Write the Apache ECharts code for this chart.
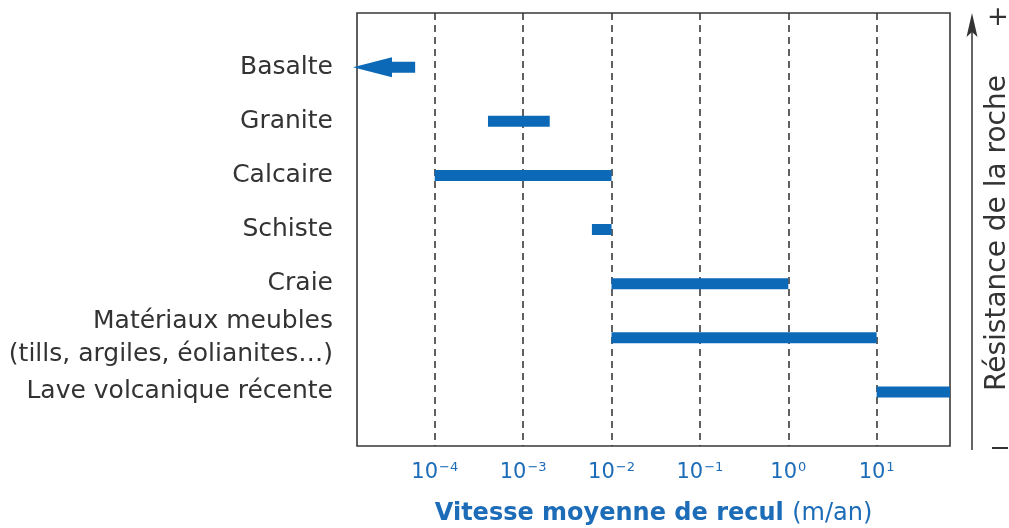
<!DOCTYPE html>
<html lang="fr">
<head>
<meta charset="utf-8">
<title>Vitesse moyenne de recul des côtes rocheuses</title>
<script src="https://cdn.jsdelivr.net/npm/echarts@6/dist/echarts.min.js"></script>
<style>
  html, body { margin: 0; padding: 0; background: #ffffff; }
  #chart { width: 1009px; height: 528px; }
</style>
</head>
<body>
<div id="chart"></div>
<script>
// Rock types, from most to least resistant
const rocks = [
  'Basalte',
  'Granite',
  'Calcaire',
  'Schiste',
  'Craie',
  'Matériaux meubles\n(tills, argiles, éolianites…)',
  'Lave volcanique récente'
];
// Range of mean retreat rate (m/an); null = open-ended (beyond the axis)
const rateLow  = [null, 4e-4, 1e-4, 6e-3, 1e-2, 1e-2, 10];
const rateHigh = [6e-5, 2e-3, 1e-2, 1e-2, 1, 10, null];
// Decade exponents labelled on the x axis
const tickExponents = [-4, -3, -2, -1, 0, 1];

const BLUE = '#0b69b7';
const LABEL_BLUE = '#1d6cb8';
const INK = '#333333';
const FONT = 'DejaVu Sans';

const xMin = Math.pow(10, -4.88);
const xMax = Math.pow(10, 1.83);

function decadeLabel(v) {
  const e = Math.log10(v);
  const r = Math.round(e);
  if (Math.abs(e - r) > 1e-6 || tickExponents.indexOf(r) < 0) return '';
  const exp = String(r).replace('-', '−');
  return '{b|10}{s|' + exp + '}';
}

const chart = echarts.init(document.getElementById('chart'), null, { renderer: 'canvas' });

const option = {
  backgroundColor: '#ffffff',
  animation: false,
  grid: {
    left: 357, right: 59, top: 13, bottom: 82,
    outerBoundsMode: 'none',
    containLabel: false,
    show: true, borderColor: '#383838', borderWidth: 1.6, backgroundColor: 'transparent'
  },
  xAxis: {
    type: 'log',
    logBase: 10,
    min: xMin,
    max: xMax,
    axisLine: { show: false },
    axisTick: { show: false },
    splitLine: {
      show: true,
      showMinLine: false,
      showMaxLine: false,
      lineStyle: { color: '#3a3a3a', width: 1.6, type: [7, 5] }
    },
    axisLabel: {
      margin: 14,
      fontFamily: FONT,
      fontSize: 21,
      color: LABEL_BLUE,
      formatter: decadeLabel,
      rich: {
        b: { fontFamily: FONT, fontSize: 21, color: LABEL_BLUE, lineHeight: 26 },
        s: { fontFamily: FONT, fontSize: 13, color: LABEL_BLUE, lineHeight: 13, padding: [0, 0, 11, 1] }
      }
    },
    name: '{t|Vitesse moyenne de recul }{u|(m/an)}',
    nameLocation: 'middle',
    nameGap: 56,
    nameTextStyle: {
      rich: {
        t: { fontFamily: FONT, fontSize: 24, fontWeight: 'bold', color: LABEL_BLUE },
        u: { fontFamily: FONT, fontSize: 24, color: LABEL_BLUE }
      }
    }
  },
  yAxis: {
    type: 'value',
    min: -1,
    max: 7,
    interval: 1,
    inverse: true,
    axisLine: { show: false },
    axisTick: { show: false },
    splitLine: { show: false },
    axisLabel: {
      margin: 24,
      color: INK,
      fontFamily: FONT,
      fontSize: 25,
      lineHeight: 33,
      formatter: function (v) {
        return Number.isInteger(v) && rocks[v] !== undefined ? rocks[v] : '';
      }
    }
  },
  series: [{
    type: 'custom',
    coordinateSystem: 'cartesian2d',
    clip: false,
    encode: { x: [0, 2], y: 1 },
    data: rocks.map(function (name, i) {
      return [rateLow[i] === null ? xMin : rateLow[i], i, rateHigh[i] === null ? xMax : rateHigh[i]];
    }),
    renderItem: function (params, api) {
      const i = params.dataIndex;
      const cs = params.coordSys;
      const row = api.value(1);
      const yc = api.coord([api.value(0), row])[1];
      const half = 5.5;
      const xEnd = rateHigh[i] === null ? cs.x + cs.width : api.coord([api.value(2), row])[0];
      if (rateLow[i] === null) {
        // open lower bound: arrow pointing past the left edge of the axis
        const tip = cs.x - 4;
        const base = tip + 39;
        return {
          type: 'polygon',
          shape: {
            points: [
              [tip, yc], [base, yc - 10], [base, yc - half], [xEnd, yc - half],
              [xEnd, yc + half], [base, yc + half], [base, yc + 10]
            ]
          },
          style: { fill: BLUE }
        };
      }
      const xStart = api.coord([api.value(0), row])[0];
      return {
        type: 'rect',
        shape: { x: xStart, y: yc - half, width: xEnd - xStart, height: half * 2 },
        style: { fill: BLUE }
      };
    }
  }],
  graphic: [
    {
      type: 'line',
      shape: { x1: 972, y1: 450, x2: 972, y2: 30 },
      style: { stroke: INK, lineWidth: 1.5 }
    },
    {
      type: 'polygon',
      shape: { points: [[972, 13], [977.5, 37], [972, 32], [966.5, 37]] },
      style: { fill: INK }
    },
    {
      type: 'text',
      x: 998, y: 18,
      style: { text: '+', fontFamily: FONT, fontSize: 26, fill: INK, align: 'center', verticalAlign: 'middle' }
    },
    {
      type: 'rect',
      shape: { x: 992, y: 447, width: 16, height: 2 },
      style: { fill: INK }
    },
    {
      type: 'text',
      x: 998, y: 233,
      rotation: Math.PI / 2,
      style: {
        text: 'Résistance de la roche', fontFamily: FONT, fontSize: 28, fill: INK,
        align: 'center', verticalAlign: 'middle'
      }
    }
  ]
};

chart.setOption(option);
</script>
</body>
</html>
